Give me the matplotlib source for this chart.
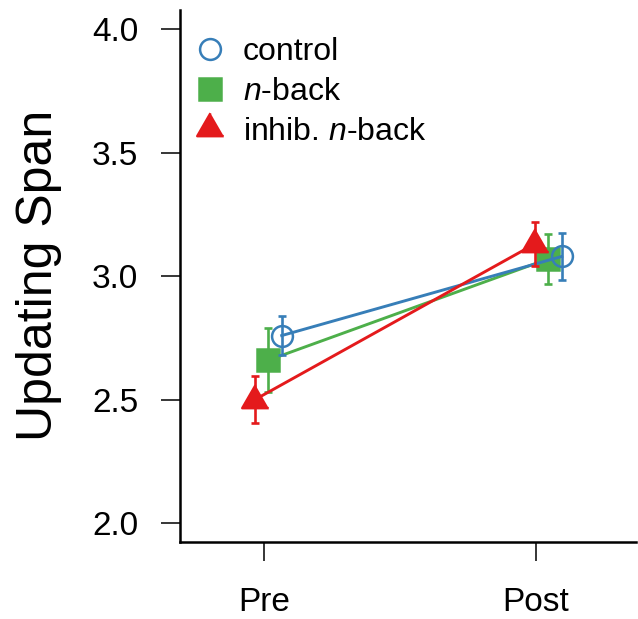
import numpy as np
import matplotlib
matplotlib.use('Agg')
import matplotlib.pyplot as plt
from matplotlib.lines import Line2D

# === Data ===
groups = ['control', '$n$-back', 'inhib. $n$-back']
times = ['Pre', 'Post']
pre_mean = [2.76, 2.66, 2.50]
post_mean = [3.08, 3.07, 3.13]
pre_se = [0.08, 0.13, 0.095]
post_se = [0.095, 0.10, 0.09]

# === Style ===
colors = ['#377EB8', '#4DAF4A', '#E41A1C']
tri = [(0, 0.577), (-0.5, -0.289), (0.5, -0.289)]
markers = ['o', 's', tri]
msizes = [15, 16, 22]
faces = ['none', colors[1], colors[2]]
dodge = [0.08, 0.03, -0.02]
time_shift = [-0.015, 0.015]
zorders = [4, 3, 5]

plt.rcParams['font.family'] = ['Liberation Sans', 'DejaVu Sans']
plt.rcParams['mathtext.fontset'] = 'custom'
plt.rcParams['mathtext.it'] = 'Liberation Sans:italic'
plt.rcParams['mathtext.rm'] = 'Liberation Sans'

fig = plt.figure(figsize=(6.38, 6.19), dpi=100)
ax = fig.add_axes([180 / 638, 1 - 541.5 / 619, 456 / 638, 531.5 / 619])

x_base = np.arange(1, len(times) + 1)
handles = []
for i, g in enumerate(groups):
    xs = x_base + dodge[i] + np.array(time_shift)
    ys = [pre_mean[i], post_mean[i]]
    es = [pre_se[i], post_se[i]]
    ax.plot(xs, ys, color=colors[i], lw=2.1, zorder=zorders[i])
    ax.errorbar(xs, ys, yerr=es, fmt='none', ecolor=colors[i],
                elinewidth=1.9, capsize=3, capthick=1.9, zorder=zorders[i] + 0.1)
    ax.plot(xs, ys, ls='none', marker=markers[i], ms=msizes[i],
            mfc=faces[i], mec=colors[i], mew=1.8, zorder=zorders[i] + 0.2)
    handles.append(Line2D([], [], ls='none', marker=markers[i], ms=msizes[i],
                          mfc=faces[i], mec=colors[i], mew=1.8, label=g))

# === Axes ===
ax.set_xlim(0.691, 2.368)
ax.set_ylim(1.927, 4.077)
ax.set_xticks(x_base)
ax.set_xticklabels(times)
ax.set_yticks([2.0, 2.5, 3.0, 3.5, 4.0])
ax.set_yticklabels(['2.0', '2.5', '3.0', '3.5', '4.0'])
ax.spines['top'].set_visible(False)
ax.spines['right'].set_visible(False)
for s in ['left', 'bottom']:
    ax.spines[s].set_linewidth(1.8)
ax.tick_params(axis='both', direction='out', length=14, width=1.1, labelsize=24)
ax.tick_params(axis='y', pad=16)
ax.tick_params(axis='x', pad=19)
ax.set_ylabel('Updating Span', fontsize=36)
ax.yaxis.set_label_coords(-0.258, 0.5)

# === Legend ===
fig.legend(handles=handles, loc='upper left', bbox_to_anchor=(194 / 638, 1 - 37.5 / 619),
           frameon=False, fontsize=23, handlelength=1.0, handletextpad=0.53,
           labelspacing=0.3, borderpad=0, borderaxespad=0, numpoints=1)

fig.savefig('out.png', dpi=100)
